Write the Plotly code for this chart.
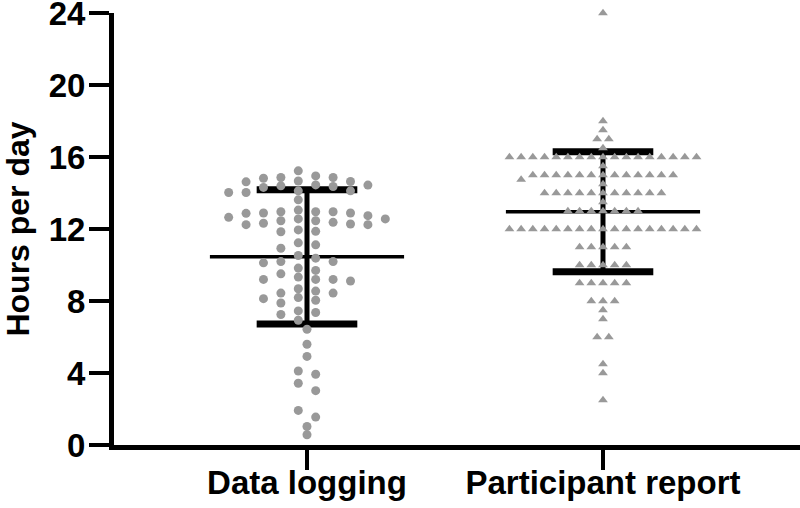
import numpy as np
import plotly.graph_objects as go

# categories on the x axis
categories = ["Data logging", "Participant report"]

# hours per day, data logging (one value per participant)
data_logging = [
    15.23,
    14.86, 14.67, 14.62, 14.95, 14.82, 14.86, 14.64,
    14.45, 14.36, 14.03, 14.12, 14.44, 14.03, 14.31, 14.12, 14.40,
    13.62,
    13.05, 12.96, 12.96, 12.96, 12.89, 12.89, 12.87, 12.74, 12.65, 12.56, 12.56,
    12.46, 12.46, 12.37, 12.32, 12.28, 12.24, 12.24,
    11.95, 11.87, 11.85,
    11.23, 11.12, 10.93,
    10.53, 10.38, 10.19, 10.19, 10.12,
    9.83, 9.70, 9.51, 9.33, 9.20, 9.20, 9.20, 9.11,
    8.68, 8.55, 8.44, 8.44, 8.19, 8.13, 8.04, 7.89,
    7.45, 7.36, 7.25, 6.93, 6.43, 5.60, 4.92,
    4.11, 3.93, 3.43, 3.02, 1.92, 1.55, 1.03, 0.57,
]

# hours per day, participant report
participant_report = [
    24, 18, 17.5, 17, 17, 16.5,
    16, 16, 16, 16, 16, 16, 16, 16, 16, 16, 16, 16, 16, 16, 16, 16, 16,
    15.5,
    15, 15, 15, 15, 15, 15, 15, 15, 15, 15, 15, 15, 15,
    14.75, 14.5,
    14, 14, 14, 14, 14, 14, 14, 14, 14, 14, 14,
    13.5,
    13, 13, 13, 13, 13, 13, 13,
    12, 12, 12, 12, 12, 12, 12, 12, 12, 12, 12, 12, 12, 12, 12, 12, 12,
    11, 11, 11, 11, 11,
    10, 10, 10, 10, 10,
    9, 9, 9, 9, 9,
    8, 8, 8,
    7.5, 7, 6, 6, 4.5, 4, 2.5,
]

y_ticks = [0, 4, 8, 12, 16, 20, 24]


def swarm_slots(values, gap, min_dy, odd_centre):
    # column-based scatter; lone points sit on the centre line
    v = np.asarray(values, float)
    order = np.argsort(-v, kind="stable")
    slots = np.zeros(len(v))
    placed = []
    for i in order:
        m = np.sum(np.abs(v - v[i]) <= gap)
        centred = m == 1 or (odd_centre and m % 2 == 1)
        base = 0.0 if centred else 0.5
        cands = sorted((base + k for k in range(-15, 16)), key=lambda c: (abs(c), c))
        for c in cands:
            if all(abs(c - s) >= 0.99 or abs(v[i] - w) >= min_dy for s, w in placed):
                break
        slots[i] = c
        placed.append((c, v[i]))
    return slots


GREY = "#999999"
font_family = "Liberation Sans, Arial, sans-serif"

fig = go.Figure()

groups = [
    (1, data_logging, 0.0588, 0.42, 0.42, False, "circle", 9),
    (2, participant_report, 0.0395, 0.2, 0.3, True, "triangle-up", 8.5),
]

# mean and SD bars first, points on top
for centre, vals, *_ in groups:
    arr = np.asarray(vals, float)
    mean, sd = arr.mean(), arr.std(ddof=1)
    fig.add_trace(go.Scatter(x=[centre - 0.328, centre + 0.328], y=[mean, mean], mode="lines",
                             line=dict(color="black", width=3.5), hoverinfo="skip"))
    fig.add_trace(go.Scatter(x=[centre, centre], y=[mean - sd, mean + sd], mode="lines",
                             line=dict(color="black", width=5), hoverinfo="skip"))
    fig.add_trace(go.Scatter(x=[centre - 0.17, centre + 0.17, None, centre - 0.17, centre + 0.17],
                             y=[mean + sd, mean + sd, None, mean - sd, mean - sd], mode="lines",
                             line=dict(color="black", width=7), hoverinfo="skip"))

for centre, vals, spacing, gap, min_dy, odd_centre, symbol, size in groups:
    xs = centre + swarm_slots(vals, gap, min_dy, odd_centre) * spacing
    fig.add_trace(go.Scatter(x=xs, y=vals, mode="markers", cliponaxis=False,
                             marker=dict(symbol=symbol, size=size, color=GREY, line=dict(width=0))))

fig.update_layout(
    width=800, height=508,
    margin=dict(l=114, r=0, t=13, b=63),
    paper_bgcolor="white", plot_bgcolor="white",
    showlegend=False,
    font=dict(family=font_family, color="black"),
)
fig.update_xaxes(
    range=[0.348, 2.6656], tickvals=[1, 2], ticktext=categories,
    showline=True, linecolor="black", linewidth=5,
    ticks="outside", ticklen=20, tickwidth=4, tickcolor="black",
    showgrid=False, zeroline=False, automargin=False,
    ticklabelstandoff=-16, ticklabeloverflow="allow",
    tickfont=dict(size=33, weight="bold", family=font_family),
)
fig.update_yaxes(
    range=[0, 24.001], tickvals=y_ticks,
    showline=True, linecolor="black", linewidth=5,
    ticks="outside", ticklen=20, tickwidth=4, tickcolor="black",
    showgrid=False, zeroline=False, automargin=False,
    ticklabelstandoff=-3, ticklabeloverflow="allow",
    tickfont=dict(size=33, weight="bold", family=font_family),
    title=dict(text="Hours per day", font=dict(size=32, weight="bold", family=font_family), standoff=18),
)

# drop the default page margin so the figure sits at the window's corner
fig.write_html("out.html", config={"displayModeBar": False},
               post_script="document.body.style.margin = '0';")
